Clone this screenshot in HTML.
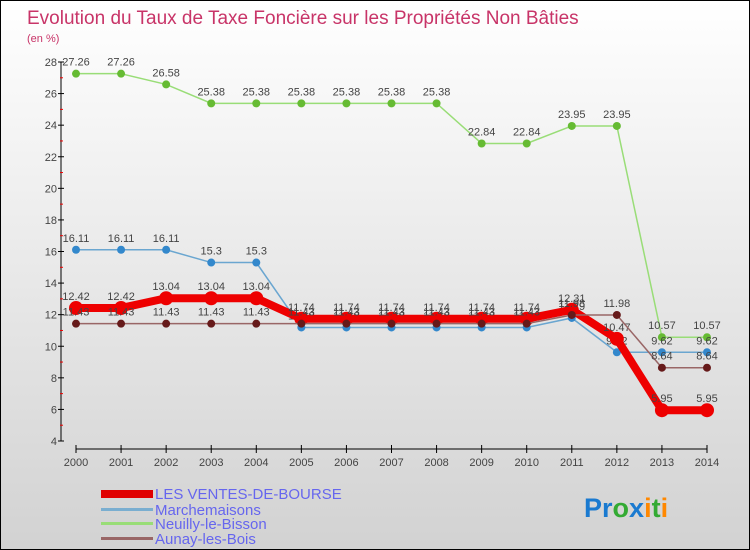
<!DOCTYPE html>
<html><head><meta charset="utf-8"><style>
body{margin:0}
#c{width:750px;height:550px;position:relative;overflow:hidden;box-sizing:border-box;border:1px solid #000;background:linear-gradient(#ffffff,#d2d2d2);font-family:"Liberation Sans",sans-serif}
</style></head><body>
<div id="c">
<svg id="s" width="750" height="550" style="position:absolute;left:0;top:0">
<text x="26" y="23" font-size="19" fill="#c83468">Evolution du Taux de Taxe Foncière sur les Propriétés Non Bâties</text>
<text x="26" y="41" font-size="11" fill="#c83468">(en %)</text>
<g id="axes"></g><g id="series"></g>
<g>
<rect x="100" y="489" width="52" height="8" fill="#e00000"/>
<text x="154" y="498" font-size="15" fill="#6666ee">LES VENTES-DE-BOURSE</text>
<rect x="100" y="507" width="52" height="3" fill="#7aaed0"/>
<text x="154" y="514" font-size="15" fill="#6666ee">Marchemaisons</text>
<rect x="100" y="521" width="52" height="3" fill="#99dd77"/>
<text x="154" y="528" font-size="15" fill="#6666ee">Neuilly-le-Bisson</text>
<rect x="100" y="536" width="52" height="3" fill="#996666"/>
<text x="154" y="543" font-size="15" fill="#6666ee">Aunay-les-Bois</text>
</g>
<text x="583" y="516" font-size="27" font-weight="bold"><tspan fill="#1a7ad0">Pr</tspan><tspan fill="#33aa33">o</tspan><tspan fill="#1a7ad0">x</tspan><tspan fill="#ff8800">i</tspan><tspan fill="#33aa33">t</tspan><tspan fill="#ff8800">i</tspan></text>
</svg>
</div>
<script>
const years=[2000,2001,2002,2003,2004,2005,2006,2007,2008,2009,2010,2011,2012,2013,2014];
const yTicks=[4,6,8,10,12,14,16,18,20,22,24,26,28];
const ventes=[12.42,12.42,13.04,13.04,13.04,11.74,11.74,11.74,11.74,11.74,11.74,12.31,10.47,5.95,5.95];
const marchemaisons=[16.11,16.11,16.11,15.3,15.3,11.19,11.19,11.19,11.19,11.19,11.19,11.79,9.62,9.62,9.62];
const neuilly=[27.26,27.26,26.58,25.38,25.38,25.38,25.38,25.38,25.38,22.84,22.84,23.95,23.95,10.57,10.57];
const aunay=[11.43,11.43,11.43,11.43,11.43,11.43,11.43,11.43,11.43,11.43,11.43,11.98,11.98,8.64,8.64];
const NS="http://www.w3.org/2000/svg";
const xs=i=>75+i*(706-75)/(years.length-1);
const ys=v=>440-(v-4)*(440-61)/24;
function mk(t,a,p){const e=document.createElementNS(NS,t);for(const k in a)e.setAttribute(k,a[k]);p.appendChild(e);return e;}
const ax=document.getElementById('axes');
const yAxis=mk('line',{x1:60,y1:61,x2:60,y2:440,stroke:'#000'},ax);


yTicks.forEach(v=>{
 mk('line',{x1:57,x2:63,y1:ys(v),y2:ys(v),stroke:'#000'},ax);
 if(v<28)mk('line',{x1:59,x2:62,y1:ys(v+1),y2:ys(v+1),stroke:'#e00'},ax);
 const t=mk('text',{x:56,y:ys(v)+4,'font-size':11,fill:'#444','text-anchor':'end'},ax);t.textContent=v;
 
 
});
const xAxis=mk('line',{x1:75,y1:448,x2:706,y2:448,stroke:'#000'},ax);


years.forEach((y,i)=>{
 mk('line',{x1:xs(i),x2:xs(i),y1:444,y2:452,stroke:'#000'},ax);
 const t=mk('text',{x:xs(i),y:465,'font-size':11,fill:'#444','text-anchor':'middle'},ax);t.textContent=y;
 
 
});
const sg=document.getElementById('series');
function series(data,name,line,dot,w,r){
 const g=mk('g',{},sg);
 
 
 const pl=mk('polyline',{points:data.map((v,i)=>xs(i)+','+ys(v)).join(' '),fill:'none',stroke:line,'stroke-width':w},g);
 
 
 data.forEach((v,i)=>{
  const c=mk('circle',{cx:xs(i),cy:ys(v),r:r,fill:dot},g);
  
  
  const t=mk('text',{x:xs(i),y:ys(v)-8,'font-size':11,fill:'#444','text-anchor':'middle'},g);t.textContent=v;
  
  
 });
}
series(neuilly,'neuilly-series','#99dd77','#66bb33',1.5,4);
series(marchemaisons,'marchemaisons-series','#6aa6d0','#3388cc',1.5,4);
series(ventes,'ventes-series','#ee0000','#ee0000',8,7);
series(aunay,'aunay-series','#996666','#661a1a',1.5,4);
</script>
</body></html>
